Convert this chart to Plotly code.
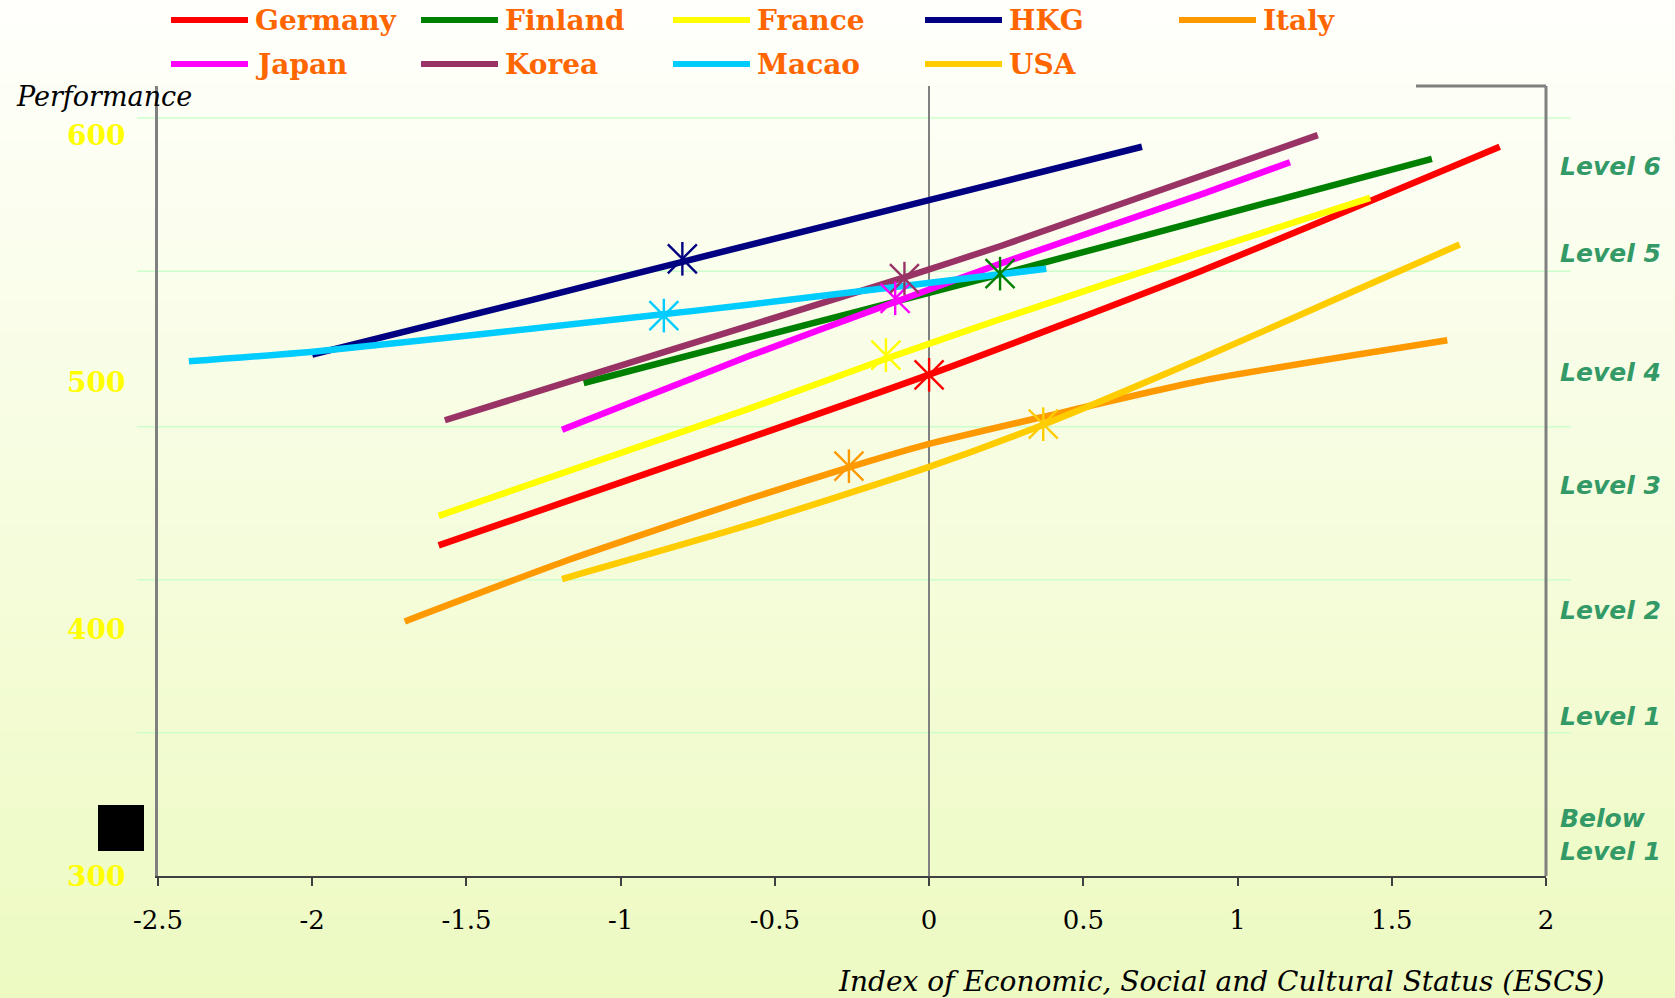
import plotly.graph_objects as go

# ---------------------------------------------------------------------------
# Performance against socio-economic background (ESCS), by country
# ---------------------------------------------------------------------------
COUNTRIES = ["Germany", "Finland", "France", "HKG", "Italy",
             "Japan", "Korea", "Macao", "USA"]
COLORS = ["#FF0000", "#008000", "#FFFF00", "#000080", "#FF9900",
          "#FF00FF", "#993366", "#00CCFF", "#FFCC00"]

# gradient lines: ESCS index (x) and mathematics performance (y)
GERMANY_ESCS = [-1.59, 0.00, 0.88, 1.85]
GERMANY_SCORE = [433.9, 503.1, 545.0, 595.4]

FINLAND_ESCS = [-1.12, 0.23, 0.88, 1.63]
FINLAND_SCORE = [499.7, 543.7, 565.5, 590.5]

FRANCE_ESCS = [-1.59, -0.59, -0.14, 0.23, 0.88, 1.43]
FRANCE_SCORE = [445.9, 489.0, 509.5, 525.5, 552.5, 574.7]

HKG_ESCS = [-2.00, -1.28, -0.80, 0.23, 0.69]
HKG_SCORE = [511.2, 533.6, 548.8, 581.0, 595.4]

ITALY_ESCS = [-1.70, -1.17, -0.59, -0.26, 0.00, 0.37, 0.88, 1.68]
ITALY_SCORE = [403.1, 428.0, 452.5, 465.5, 475.0, 486.0, 500.5, 517.0]

JAPAN_ESCS = [-1.19, -0.58, -0.11, 0.23, 0.88, 1.17]
JAPAN_SCORE = [480.8, 510.8, 532.5, 548.0, 576.0, 589.1]

KOREA_ESCS = [-1.57, -0.80, -0.08, 0.23, 1.26]
KOREA_SCORE = [484.6, 514.5, 542.5, 555.1, 600.1]

MACAO_ESCS = [-2.40, -1.99, -0.90, -0.58, -0.09, 0.38]
MACAO_SCORE = [508.5, 512.5, 527.0, 531.5, 538.9, 546.0]

USA_ESCS = [-1.19, -0.59, 0.00, 0.37, 0.88, 1.31, 1.72]
USA_SCORE = [420.3, 442.0, 465.7, 482.8, 509.5, 533.2, 555.8]

# country means (mean ESCS, mean performance)
MEAN_ESCS = [0.00, 0.23, -0.14, -0.80, -0.26, -0.11, -0.08, -0.86, 0.37]
MEAN_SCORE = [503, 544, 511, 550, 466, 534, 542, 527, 483]

# proficiency level cut-off scores and level names
LEVEL_CUTS = [358, 420, 482, 545, 607]
LEVEL_NAMES = ["Level 6", "Level 5", "Level 4", "Level 3",
               "Level 2", "Level 1", "Below<br>Level 1"]

X_TICKS = [-2.5, -2, -1.5, -1, -0.5, 0, 0.5, 1, 1.5, 2]
Y_TICKS = [300, 400, 500, 600]

X_TITLE = "Index of Economic, Social and Cultural Status (ESCS)"
Y_TITLE = "Performance"

LINES = [
    (GERMANY_ESCS, GERMANY_SCORE), (FINLAND_ESCS, FINLAND_SCORE),
    (FRANCE_ESCS, FRANCE_SCORE), (HKG_ESCS, HKG_SCORE),
    (ITALY_ESCS, ITALY_SCORE), (JAPAN_ESCS, JAPAN_SCORE),
    (KOREA_ESCS, KOREA_SCORE), (MACAO_ESCS, MACAO_SCORE),
    (USA_ESCS, USA_SCORE),
]

# ---------------------------------------------------------------------------
# page geometry (pixels) and helpers to place items in paper coordinates
# ---------------------------------------------------------------------------
W, H = 1675, 998
ML, MR, MT, MB = 158, 129, 86, 122
PW, PH = W - ML - MR, H - MT - MB


def px(x):
    return (x - ML) / PW


def py(y):
    return (H - MB - y) / PH


SERIF = "DejaVu Serif"
SANS = "DejaVu Sans"

fig = go.Figure()

for (xs, ys), name, col in zip(LINES, COUNTRIES, COLORS):
    fig.add_trace(go.Scatter(
        x=xs, y=ys, mode="lines", name=name,
        line=dict(color=col, width=6.5, shape="spline", smoothing=0.6),
        showlegend=False, hoverinfo="skip",
    ))

# star markers at the country means: diagonal cross plus vertical bar
fig.add_trace(go.Scatter(
    x=MEAN_ESCS, y=MEAN_SCORE, mode="markers", showlegend=False,
    marker=dict(symbol="x-thin-open", size=29, color=COLORS,
                line=dict(width=2.4)),
    text=COUNTRIES, hoverinfo="text+x+y",
))
fig.add_trace(go.Scatter(
    x=MEAN_ESCS, y=MEAN_SCORE, mode="markers", showlegend=False,
    marker=dict(symbol="line-ns-open", size=24, color=COLORS,
                line=dict(width=2.4)),
    hoverinfo="skip",
))

shapes = []

# soft vertical background gradient over the whole page
N_BANDS = 120
top_rgb = (255, 255, 252)
bot_rgb = (237, 250, 193)
for i in range(N_BANDS):
    t = (i + 0.5) / N_BANDS
    c = tuple(round(a + (b - a) * t) for a, b in zip(top_rgb, bot_rgb))
    y0 = H * i / N_BANDS
    y1 = H * (i + 1) / N_BANDS + 1
    shapes.append(dict(
        type="rect", xref="paper", yref="paper", layer="below",
        x0=px(0), x1=px(W), y0=py(y1), y1=py(y0),
        fillcolor="rgb(%d,%d,%d)" % c, line=dict(width=0),
    ))

# level boundary lines
for cut in LEVEL_CUTS:
    shapes.append(dict(
        type="line", xref="paper", yref="y", layer="below",
        x0=px(137), x1=px(1571), y0=cut, y1=cut,
        line=dict(color="#CCFFCC", width=1.5),
    ))

# right border and short top border of the plot frame
shapes.append(dict(type="line", xref="paper", yref="paper",
                   x0=1, x1=1, y0=0, y1=1,
                   line=dict(color="#808080", width=3)))
shapes.append(dict(type="line", xref="paper", yref="paper",
                   x0=px(1416), x1=1, y0=1, y1=1,
                   line=dict(color="#808080", width=3)))

# black square near the bottom-left corner
shapes.append(dict(type="rect", xref="paper", yref="paper",
                   x0=px(98), x1=px(144), y0=py(851), y1=py(805),
                   fillcolor="black", line=dict(width=0)))

annotations = []

# legend: two rows of five columns
LEG_COL_X = [171, 421, 673, 925, 1179]
LEG_ROW_Y = [20, 64]
for i, (name, col) in enumerate(zip(COUNTRIES, COLORS)):
    r, c = divmod(i, 5)
    x0 = LEG_COL_X[c]
    yy = LEG_ROW_Y[r]
    shapes.append(dict(type="line", xref="paper", yref="paper",
                       x0=px(x0), x1=px(x0 + 77), y0=py(yy), y1=py(yy),
                       line=dict(color=col, width=6)))
    annotations.append(dict(
        text=name, xref="paper", yref="paper",
        x=px(x0 + 82), y=py(yy), xanchor="left", yanchor="middle",
        showarrow=False,
        font=dict(family=SERIF, size=28, color="#FF6600", weight="bold"),
    ))

# level names on the right
LEVEL_Y = [166, 253, 372, 485, 610, 716, 835]
for name, yy in zip(LEVEL_NAMES, LEVEL_Y):
    annotations.append(dict(
        text=name, xref="paper", yref="paper",
        x=px(1558), y=py(yy), xanchor="left", yanchor="middle",
        align="left", showarrow=False,
        font=dict(family=SANS, size=25, color="#339966",
                  weight="bold", style="italic"),
    ))

# axis titles
annotations.append(dict(
    text=Y_TITLE, xref="paper", yref="paper",
    x=px(14), y=py(97), xanchor="left", yanchor="middle", showarrow=False,
    font=dict(family=SERIF, size=27, color="black", style="italic"),
))
annotations.append(dict(
    text=X_TITLE, xref="paper", yref="paper",
    x=px(1606), y=py(981), xanchor="right", yanchor="middle",
    showarrow=False,
    font=dict(family=SERIF, size=28, color="black", style="italic"),
))

fig.update_layout(
    width=W, height=H,
    margin=dict(l=ML, r=MR, t=MT, b=MB, pad=0),
    paper_bgcolor="white",
    plot_bgcolor="rgba(0,0,0,0)",
    showlegend=False,
    shapes=shapes,
    annotations=annotations,
    xaxis=dict(
        range=[-2.5, 2], tickvals=X_TICKS,
        ticktext=[("%g" % v) for v in X_TICKS],
        showgrid=False,
        zeroline=True, zerolinecolor="#808080", zerolinewidth=2,
        showline=True, linecolor="#404040", linewidth=2,
        ticks="outside", ticklen=8, tickwidth=1.5, tickcolor="#404040",
        ticklabelstandoff=12,
        tickfont=dict(family=SERIF, size=26, color="black"),
    ),
    yaxis=dict(
        range=[300, 620], tickvals=Y_TICKS,
        showgrid=False, zeroline=False,
        showline=True, linecolor="#808080", linewidth=3,
        ticks="", ticklabelstandoff=24,
        tickfont=dict(family=SERIF, size=28, color="#FFFF00", weight="bold"),
    ),
)

fig.write_html("out.html")
